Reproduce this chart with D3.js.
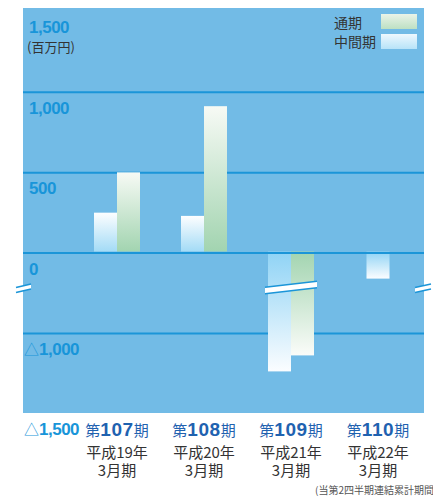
<!DOCTYPE html>
<meta charset="utf-8">
<style>
    body { margin: 0; background: #fff; }
    svg { display: block; }
    .jp { font-family: "Noto Sans CJK JP", "Noto Sans", sans-serif; }
    .num { font-family: "Liberation Sans", Arial, sans-serif; font-weight: bold; }
    .tick-label { fill: #1895d9; font-size: 17px; letter-spacing: -0.5px; }
    .grid line { stroke: #1b95d8; stroke-width: 2; }
    .grid path { stroke-width: 0; }
    .cat-top { fill: #1f62b0; }
    .cat-sub { fill: #333; font-size: 15px; }
    .legend text { fill: #333; font-size: 14px; }
</style>
<body>
<svg width="433" height="497"></svg>
</body>
<script src="https://d3js.org/d3.v7.min.js"></script>
<script>

// data (百万円)
var periodNums = ["107", "108", "109", "110"];
var yearLabels = ["平成19年", "平成20年", "平成21年", "平成22年"];
var monthLabel = "3月期";
var interim = [250, 230, -1240, -160];          // 中間期
var fullYear = [500, 910, -1140, null];          // 通期 (110期 not yet)
var tickValues = [1500, 1000, 500, 0, -1000, -1500];
var tickLabels = ["1,500", "1,000", "500", "0", "△1,000", "△1,500"];
var gridValues = [1000, 500, -1000];

var svg = d3.select("svg");

var plot = { left: 23, right: 424, top: 8, bottom: 413 };

// y axis has a break between 0 and -1000 (the part between -750 and -250 is cut out)
var y = d3.scaleLinear()
        .domain([-1500, -750, -250, 0, 1500])
        .range([413, 293, 293, 253, 11]);

var x = d3.scaleBand()
        .domain(periodNums)
        .range([73.5, 421.5]);

var sub = d3.scaleBand()
        .domain(["interim", "full"])
        .range([x.bandwidth() / 2 - 23, x.bandwidth() / 2 + 23]);

// gradients
var defs = svg.append("defs");
function grad(id, top, bottom) {
    var g = defs.append("linearGradient").attr("id", id)
            .attr("x1", 0).attr("y1", 0).attr("x2", 0).attr("y2", 1);
    g.append("stop").attr("offset", "0%").attr("stop-color", top);
    g.append("stop").attr("offset", "100%").attr("stop-color", bottom);
}
grad("interimPos", "#fdfeff", "#a3dbf6");
grad("interimNeg", "#8fd3f5", "#fbfdff");
grad("fullPos", "#f7faf5", "#a2d4b0");
grad("fullNeg", "#a2d4b0", "#fbfcf9");
grad("legFull", "#eaf3e8", "#bde0c3");
grad("legInterim", "#eef8fe", "#b7e3f8");

// background
svg.append("rect")
        .attr("x", plot.left).attr("y", plot.top)
        .attr("width", plot.right - plot.left)
        .attr("height", plot.bottom - plot.top)
        .attr("fill", "#72bbe6");

// grid lines
svg.append("g")
        .attr("class", "grid")
        .attr("transform", "translate(" + plot.left + ",0)")
        .call(d3.axisLeft(y)
                .tickValues(gridValues)
                .tickSize(-(plot.right - plot.left))
                .tickFormat(""));

// bars
var series = [
    { key: "interim", values: interim, pos: "url(#interimPos)", neg: "url(#interimNeg)" },
    { key: "full", values: fullYear, pos: "url(#fullPos)", neg: "url(#fullNeg)" }
];

// a period with only one bar gets it centred in its band
function barX(s, i) {
    var p = periodNums[i];
    var alone = interim[i] === null || fullYear[i] === null;
    if (alone) return x(p) + x.bandwidth() / 2 - sub.bandwidth() / 2;
    return x(p) + sub(s.key);
}

series.forEach(function (s) {
    var data = periodNums.map(function (p, i) { return { p: p, i: i, v: s.values[i] }; })
            .filter(function (d) { return d.v !== null; });
    svg.append("g").selectAll("rect")
            .data(data)
            .enter().append("rect")
            .attr("x", function (d) { return barX(s, d.i); })
            .attr("width", sub.bandwidth())
            .attr("y", function (d) { return d.v >= 0 ? y(d.v) : y(0) - 1.5; })
            .attr("height", function (d) { return d.v >= 0 ? y(0) - 1.5 - y(d.v) : y(d.v) - y(0) + 1.5; })
            .attr("fill", function (d) { return d.v >= 0 ? s.pos : s.neg; });
});

// zero line on top of the bars
svg.append("line")
        .attr("x1", plot.left).attr("x2", plot.right)
        .attr("y1", y(0)).attr("y2", y(0))
        .attr("stroke", "#1b95d8").attr("stroke-width", 2);

// axis break marks
var by = y(-500);
function breakMark(x0, x1, yl, yr, gap) {
    svg.append("path")
            .attr("d", "M" + x0 + "," + (yl - gap / 2) + "L" + x1 + "," + (yr - gap / 2) +
                    "L" + x1 + "," + (yr + gap / 2) + "L" + x0 + "," + (yl + gap / 2) + "Z")
            .attr("fill", "#fff");
    [-1, 1].forEach(function (k) {
        svg.append("line")
                .attr("x1", x0).attr("x2", x1)
                .attr("y1", yl + k * gap / 2).attr("y2", yr + k * gap / 2)
                .attr("stroke", "#1b95d8").attr("stroke-width", 1.6);
    });
}
var b109 = x("109");
breakMark(b109 + sub("interim") - 3, b109 + sub("full") + sub.bandwidth() + 3, by - 2.5, by - 8.5, 6.5);
breakMark(16, 31, by - 3, by - 6.5, 5);
breakMark(415, 431, by - 3, by - 6.5, 5);

// y tick labels
svg.append("g").selectAll("text")
        .data(tickValues)
        .enter().append("text")
        .attr("class", "tick-label num")
        .attr("y", function (d) { return y(d) + 22; })
        .attr("x", function (d, i) { return tickLabels[i].charAt(0) === "△" ? 24 : 29; })
        .each(function (d, i) {
            var t = d3.select(this), lab = tickLabels[i];
            if (lab.charAt(0) === "△") {
                t.append("tspan").attr("class", "jp")
                        .style("font-weight", "normal").style("font-size", "15px")
                        .attr("letter-spacing", "0")
                        .text("△");
                t.append("tspan").text(lab.slice(1));
            } else {
                t.text(lab);
            }
        });

svg.append("text")
        .attr("class", "jp")
        .attr("x", 27).attr("y", 52)
        .style("font-size", "13px").style("fill", "#333")
        .text("(百万円)");

// category labels
var cats = svg.append("g").selectAll("g")
        .data(periodNums)
        .enter().append("g")
        .attr("transform", function (d) { return "translate(" + (x(d) + x.bandwidth() / 2) + ",0)"; });

var catTop = cats.append("text")
        .attr("class", "cat-top")
        .attr("y", 436)
        .attr("text-anchor", "middle");
catTop.append("tspan").attr("class", "jp").style("font-size", "15px").text("第");
catTop.append("tspan").attr("class", "num").style("font-size", "19px")
        .attr("letter-spacing", "0.6px")
        .text(function (d) { return d; });
catTop.append("tspan").attr("class", "jp").style("font-size", "15px").text("期");

cats.append("text")
        .attr("class", "cat-sub jp")
        .attr("y", 458)
        .attr("text-anchor", "middle")
        .text(function (d, i) { return yearLabels[i]; });

cats.append("text")
        .attr("class", "cat-sub jp")
        .attr("y", 476)
        .attr("text-anchor", "middle")
        .text(monthLabel);

// legend
var legend = svg.append("g").attr("class", "legend jp");
var legItems = [["通期", "url(#legFull)"], ["中間期", "url(#legInterim)"]];
legItems.forEach(function (it, i) {
    legend.append("text").attr("x", 334).attr("y", 28 + i * 19).text(it[0]);
    legend.append("rect")
            .attr("x", 381).attr("y", 14 + i * 20)
            .attr("width", 36).attr("height", 15)
            .attr("fill", it[1]);
});

// footnote (runs off the right edge)
svg.append("text")
        .attr("class", "jp")
        .attr("x", 315).attr("y", 494)
        .style("font-size", "10px").style("fill", "#555")
        .text("(当第2四半期連結累計期間)");

</script>
